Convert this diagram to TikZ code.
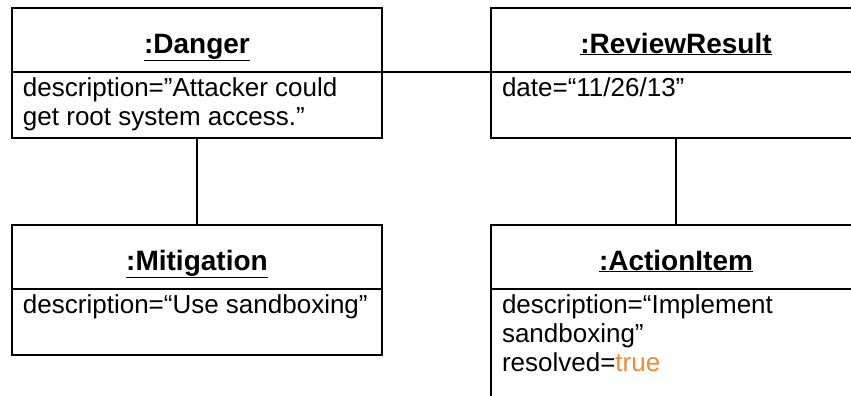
\documentclass[tikz,border=0pt]{standalone}
\usepackage{fontspec}
\setmainfont{Liberation Sans}
\usetikzlibrary{positioning}
\definecolor{valorange}{RGB}{240,138,48}
\tikzset{node distance=2.0cm, auto}
\tikzset{
  objtitle/.style={draw, line width=2pt, minimum width=370pt, minimum height=64pt,
    outer sep=0pt, inner sep=0pt, text height=30pt, text depth=4pt,
    font=\fontsize{28}{32}\selectfont\bfseries},
  objattr/.style={draw, line width=2pt, minimum width=370pt, outer sep=0pt,
    inner xsep=11pt, inner ysep=4pt, font=\fontsize{26}{29}\selectfont},
  link/.style={line width=2pt}
}
\newcommand{\attrbox}[2]{\parbox[t][#1][t]{348pt}{\raggedright\strut #2}}

\begin{document}
\begin{tikzpicture}
\useasboundingbox (0pt,0pt) rectangle (851pt,-396pt);
\clip (0pt,0pt) rectangle (851pt,-396pt);

% upper row
\node[objtitle, anchor=north west] (danger) at (12pt,-8pt) {\underline{:Danger}};
\node[objattr, below=0pt of danger] (dangerattr)
  {\attrbox{58pt}{description=”Attacker could\\get root system access.”}};
\node[objtitle, right=109pt of danger] (review) {\underline{:ReviewResult}};
\node[objattr, below=0pt of review] (reviewattr)
  {\attrbox{58pt}{date=“11/26/13”}};

% lower row
\node[objtitle, below=87pt of dangerattr] (mitigation) {\underline{:Mitigation}};
\node[objattr, below=0pt of mitigation] (mitigationattr)
  {\attrbox{58pt}{description=“Use sandboxing”}};
\node[objtitle, below=87pt of reviewattr] (action) {\underline{:ActionItem}};
\node[objattr, below=0pt of action] (actionattr)
  {\attrbox{140pt}{description=“Implement\\sandboxing”\\resolved=\textcolor{valorange}{true}}};

% links
\draw[link] (danger.south east) -- (review.south west);
\draw[link] (dangerattr.south) -- (mitigation.north);
\draw[link] (reviewattr.south) -- (action.north);
\end{tikzpicture}
\end{document}
